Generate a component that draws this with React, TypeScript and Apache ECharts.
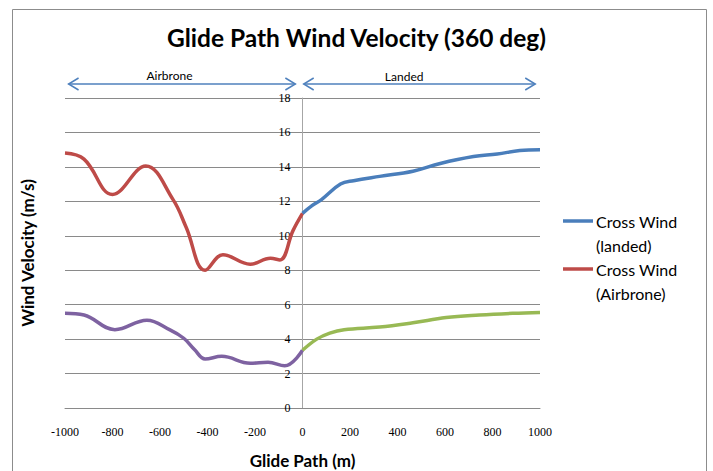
import { useEffect, useRef } from "react";
import * as echarts from "echarts";

// Glide path distance (m) and cross-wind velocity (m/s) per leg
const airHighX = [-1000, -920, -800, -660, -545, -490, -410, -335, -220, -135, -95, -40, 0];
const airHighY = [14.8, 14.45, 12.4, 14.05, 12.1, 10.5, 8.0, 8.9, 8.35, 8.7, 8.6, 10.3, 11.3];

const airLowX = [-1000, -920, -790, -655, -560, -500, -455, -410, -340, -220, -145, -75, 0];
const airLowY = [5.5, 5.4, 4.55, 5.1, 4.55, 4.05, 3.4, 2.85, 3.0, 2.6, 2.65, 2.45, 3.35];

const landHighX = [0, 40, 80, 160, 215, 325, 465, 580, 720, 820, 915, 1000];
const landHighY = [11.3, 11.75, 12.1, 13.0, 13.2, 13.45, 13.75, 14.2, 14.6, 14.75, 14.95, 15.0];

const landLowX = [0, 60, 115, 175, 325, 465, 605, 745, 885, 1000];
const landLowY = [3.35, 4.0, 4.35, 4.55, 4.7, 4.95, 5.25, 5.4, 5.5, 5.55];

const legendNames = ["Cross Wind\n(landed)", "Cross Wind\n(Airbrone)"];
const phaseLabels = ["Airbrone", "Landed"];
// spans of the two phase arrows along the glide path (m)
const airSpan = [-985, -30];
const landSpan = [5, 980];

const BLUE = "#4A7EBB";
const RED = "#BE4B48";
const GREEN = "#98B954";
const PURPLE = "#7E62A1";
const ARROW = "#4F81BD";
const GRID = "#8a8a8a";

const GRID_LEFT = 65;
const GRID_RIGHT = 173;

const pair = (xs: number[], ys: number[]) => xs.map((x, i) => [x, ys[i]]);

export default function App() {
  const ref = useRef<HTMLDivElement>(null);

  useEffect(() => {
    if (!ref.current) return;
    const chart = echarts.init(ref.current, null, { renderer: "svg" });

    const lineSeries = (name: string, data: number[][], color: string) => ({
      name,
      type: "line",
      data,
      smooth: 0.4,
      showSymbol: false,
      symbol: "none",
      lineStyle: { color, width: 3.5 },
      itemStyle: { color },
    });

    // value labels sit beside the zero line, which lies mid-plot
    const plotWidth = 713 - GRID_LEFT - GRID_RIGHT;
    const zeroOffset = plotWidth / 2;

    chart.setOption({
      animation: false,
      backgroundColor: "#ffffff",
      title: {
        text: "Glide Path Wind Velocity (360 deg)",
        left: "center",
        top: 20,
        textStyle: { fontFamily: "Lato", fontWeight: "bold", fontSize: 24.5, color: "#000" },
      },
      grid: { left: GRID_LEFT, right: GRID_RIGHT, top: 98, bottom: 63, containLabel: false, outerBoundsMode: "none" },
      xAxis: {
        type: "value",
        min: -1000,
        max: 1000,
        interval: 200,
        name: "Glide Path (m)",
        nameLocation: "middle",
        nameGap: 44,
        nameTextStyle: { fontFamily: "Lato", fontWeight: "bold", fontSize: 17, color: "#000" },
        axisLine: { show: true, lineStyle: { color: GRID, width: 1 } },
        axisTick: { show: false },
        splitLine: { show: false },
        axisLabel: {
          margin: 18,
          fontFamily: "Liberation Serif",
          fontSize: 12,
          color: "#000",
          showMinLabel: true,
          showMaxLabel: true,
          hideOverlap: false,
          formatter: (v: number) => String(v),
        },
      },
      yAxis: {
        type: "value",
        min: 0,
        max: 18,
        interval: 2,
        name: "Wind Velocity (m/s)",
        nameLocation: "middle",
        nameGap: 29,
        nameTextStyle: { fontFamily: "Lato", fontWeight: "bold", fontSize: 17, color: "#000" },
        axisLine: { show: true, onZero: true, lineStyle: { color: "#a6a6a6", width: 1 } },
        axisTick: { show: false },
        splitLine: { show: true, lineStyle: { color: GRID, width: 1 } },
        axisLabel: {
          margin: 12 - zeroOffset,
          fontFamily: "Liberation Serif",
          fontSize: 12,
          color: "#000",
          formatter: (v: number) => String(v),
        },
      },
      series: [
        lineSeries("Low (Airbrone)", pair(airLowX, airLowY), PURPLE),
        lineSeries("Low (landed)", pair(landLowX, landLowY), GREEN),
        lineSeries(legendNames[1], pair(airHighX, airHighY), RED),
        lineSeries(legendNames[0], pair(landHighX, landHighY), BLUE),
      ],
    });

    // phase arrows above the plot, placed through the axis scale
    const px = (x: number) => chart.convertToPixel({ xAxisIndex: 0 }, x) as number;
    const topY = chart.convertToPixel({ yAxisIndex: 0 }, 18) as number;
    const ay = topY - 14;

    const arrow = (x0: number, x1: number) => [
      { type: "line", shape: { x1: x0, y1: ay, x2: x1, y2: ay }, style: { stroke: ARROW, lineWidth: 1.5 } },
      { type: "polyline", shape: { points: [[x0 + 10, ay - 6], [x0, ay], [x0 + 10, ay + 6]] }, style: { stroke: ARROW, lineWidth: 1.5, fill: null } },
      { type: "polyline", shape: { points: [[x1 - 10, ay - 6], [x1, ay], [x1 - 10, ay + 6]] }, style: { stroke: ARROW, lineWidth: 1.5, fill: null } },
    ];

    const a0 = px(airSpan[0]);
    const a1 = px(airSpan[1]);
    const l0 = px(landSpan[0]);
    const l1 = px(landSpan[1]);

    const legendItem = (y: number, color: string, text: string) => [
      { type: "line", shape: { x1: 563, y1: y, x2: 593, y2: y }, style: { stroke: color, lineWidth: 3.5 } },
      {
        type: "text",
        x: 596,
        y: y - 12,
        style: { text, font: "16px Lato", fill: "#000", align: "left", verticalAlign: "top", lineHeight: 24 },
      },
    ];

    chart.setOption({
      graphic: [
        { type: "rect", shape: { x: 12.5, y: 9.5, width: 694, height: 480 }, style: { stroke: "#8c8c8c", lineWidth: 1, fill: null }, silent: true },
        ...arrow(a0, a1),
        ...arrow(l0, l1),
        { type: "text", x: px(-560), y: ay - 9, style: { text: phaseLabels[0], font: "12px Lato", fill: "#000", align: "center", verticalAlign: "middle" } },
        { type: "text", x: px(428), y: ay - 8, style: { text: phaseLabels[1], font: "12px Lato", fill: "#000", align: "center", verticalAlign: "middle" } },
        ...legendItem(221, BLUE, legendNames[0]),
        ...legendItem(269, RED, legendNames[1]),
      ],
    });

    return () => chart.dispose();
  }, []);

  return (
    <div
      ref={ref}
      style={{ position: "fixed", left: 0, top: 0, width: 713, height: 471 }}
    />
  );
}
